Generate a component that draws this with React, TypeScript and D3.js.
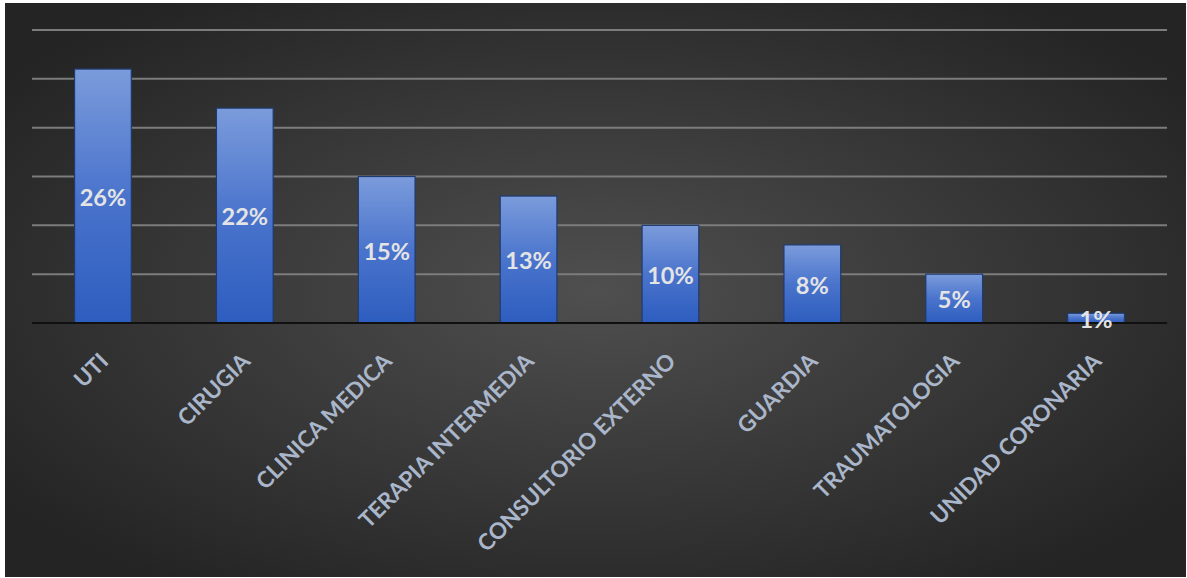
import React from "react";
import * as d3 from "d3";

const categories = [
  "UTI",
  "CIRUGIA",
  "CLINICA MEDICA",
  "TERAPIA INTERMEDIA",
  "CONSULTORIO EXTERNO",
  "GUARDIA",
  "TRAUMATOLOGIA",
  "UNIDAD CORONARIA",
];
const values = [26, 22, 15, 13, 10, 8, 5, 1];
const gridTicks = [0, 5, 10, 15, 20, 25, 30];

const W = 1187;
const H = 578;

export default function App() {
  const x = d3
    .scaleBand<string>()
    .domain(categories)
    .range([32, 1167])
    .paddingInner(0.6)
    .paddingOuter(0.3);
  const y = d3.scaleLinear().domain([0, 30]).range([323, 30]);

  return (
    <svg
      width={W}
      height={H}
      style={{ position: "absolute", left: 0, top: 0, display: "block" }}
    >
      <defs>
        <radialGradient id="bg" cx="50%" cy="50%" r="62%">
          <stop offset="0%" stopColor="#4f4f4f" />
          <stop offset="100%" stopColor="#242424" />
        </radialGradient>
        <linearGradient id="bar" x1="0" y1="0" x2="0" y2="1">
          <stop offset="0%" stopColor="#7b9bdb" />
          <stop offset="50%" stopColor="#4a74cc" />
          <stop offset="100%" stopColor="#2d5dbf" />
        </linearGradient>
      </defs>
      <rect x={0} y={0} width={W} height={H} fill="#ffffff" />
      <rect x={5} y={3} width={1181} height={574} fill="url(#bg)" />
      {gridTicks
        .filter((t) => t > 0)
        .map((t) => (
          <line
            key={t}
            x1={32}
            x2={1167}
            y1={y(t)}
            y2={y(t)}
            stroke="#7c7c7c"
            strokeWidth={2}
          />
        ))}
      {categories.map((c, i) => (
        <rect
          key={c}
          x={x(c)}
          y={y(values[i])}
          width={x.bandwidth()}
          height={y(0) - y(values[i])}
          fill="url(#bar)"
          stroke="#1f3a6e"
          strokeWidth={1.2}
        />
      ))}
      <line x1={32} x2={1167} y1={y(0)} y2={y(0)} stroke="#101010" strokeWidth={2} />
      {categories.map((c, i) => (
        <text
          key={"v" + c}
          x={(x(c) as number) + x.bandwidth() / 2}
          y={(y(values[i]) + y(0)) / 2}
          dy="0.42em"
          textAnchor="middle"
          fill="#e4e4e4"
          fontFamily="Lato, 'Open Sans', sans-serif"
          fontWeight="bold"
          fontSize={23.5}
        >
          {values[i]}%
        </text>
      ))}
      {categories.map((c) => {
        const cx = (x(c) as number) + x.bandwidth() / 2;
        return (
          <text
            key={"c" + c}
            transform={`translate(${cx + 1},${357}) rotate(-45)`}
            dy="0.36em"
            textAnchor="end"
            fill="#aab6ca"
            fontFamily="Lato, 'Open Sans', sans-serif"
            fontWeight="bold"
            fontSize={22.5}
          >
            {c}
          </text>
        );
      })}
    </svg>
  );
}
